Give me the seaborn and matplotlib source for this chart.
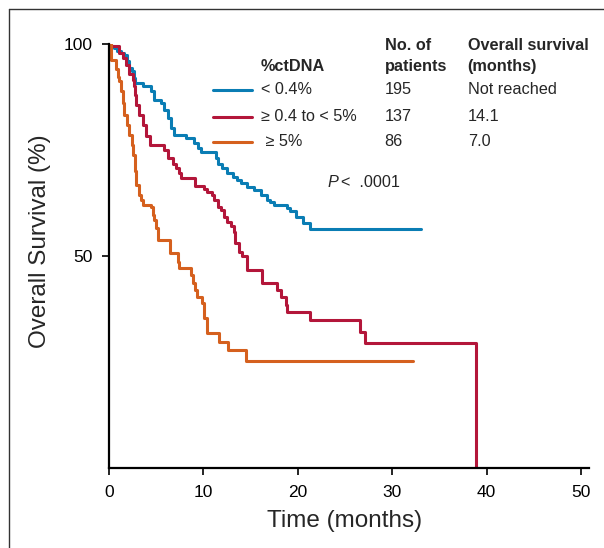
import matplotlib
matplotlib.use("Agg")
import matplotlib.pyplot as plt
from matplotlib.lines import Line2D
import seaborn as sns
import pandas as pd
from matplotlib import font_manager

# Kaplan-Meier step coordinates: time (months) and survival (%) after each step
low_time = [0, 0.2, 0.5, 0.9, 1.27, 1.6, 1.9, 2.15, 2.4, 2.67, 2.78, 3.56, 4.44, 4.79,
            5.5, 5.85, 6.2, 6.55, 6.9, 8.14, 9.02, 9.38, 9.73, 11.3, 11.6, 12.0, 12.5,
            13.1, 13.6, 13.95, 14.66, 15.36, 16.07, 16.78, 17.05, 17.47, 18.9, 19.2,
            19.8, 20.6, 21.3, 33.1]
low_surv = [100, 99.5, 99.0, 98.3, 97.9, 97.5, 95.9, 94.3, 93.6, 92.0, 90.8, 90.0, 88.8,
            86.9, 86.1, 84.5, 82.5, 80.2, 78.6, 77.8, 76.7, 75.5, 74.6, 73.0, 71.8, 70.7,
            69.5, 68.7, 67.9, 67.1, 66.3, 65.6, 64.4, 63.2, 62.8, 62.0, 61.3, 60.5, 59.1,
            57.9, 56.3, 56.3]

mid_time = [0, 0.2, 1.06, 1.45, 1.8, 2.15, 2.5, 2.67, 2.75, 2.85, 3.2, 3.56, 3.9, 4.37,
            5.85, 6.2, 6.73, 7.08, 7.43, 7.6, 9.1, 10.1, 10.4, 10.96, 11.1, 11.5, 11.84,
            12.2, 12.55, 12.9, 13.24, 13.4, 13.8, 14.13, 14.66, 16.25, 17.83, 18.2, 18.7,
            18.9, 21.3, 26.6, 27.1, 38.9]
mid_surv = [100, 99.5, 97.9, 96.7, 95.0, 93.0, 91.6, 90.0, 88.0, 85.7, 83.3, 81.0, 78.2,
            76.2, 75.0, 73.0, 71.8, 70.7, 69.5, 68.3, 66.4, 65.8, 65.2, 64.4, 63.2, 61.6,
            60.8, 59.3, 58.1, 57.0, 55.7, 53.0, 51.0, 49.9, 46.7, 43.6, 42.0, 40.4, 38.4,
            36.9, 34.9, 32.1, 29.4, 0.0]

high_time = [0, 0.2, 0.74, 0.92, 1.09, 1.27, 1.45, 1.62, 1.9, 2.15, 2.4, 2.57, 2.75, 2.85,
             3.17, 3.38, 3.56, 4.44, 4.62, 4.79, 4.97, 5.15, 6.48, 7.26, 7.43, 8.67, 8.85,
             9.09, 9.3, 9.9, 10.07, 10.36, 10.43, 11.66, 12.6, 14.56, 32.2]
high_surv = [100, 96.3, 94.0, 92.2, 91.2, 88.8, 86.0, 83.3, 81.0, 78.6, 76.2, 73.9, 70.0,
             66.7, 64.5, 63.2, 62.0, 61.6, 59.7, 58.5, 56.5, 53.8, 50.6, 48.7, 47.1, 45.5,
             43.6, 42.0, 40.4, 38.8, 35.3, 33.7, 31.9, 29.8, 27.8, 25.3, 25.3]

groups = ["< 0.4%", "\u2265 0.4 to < 5%", " \u2265 5%"]
n_patients = ["195", "137", "86"]
median_os = ["Not reached", "14.1", "7.0"]
colors = ["#0a7db4", "#b3163a", "#d5601e"]
x_ticks = [0, 10, 20, 30, 40, 50]
y_ticks = [50, 100]

available = {f.name for f in font_manager.fontManager.ttflist}
narrow = "Liberation Sans Narrow" if "Liberation Sans Narrow" in available else "Liberation Sans"
label_size = 21 if narrow == "Liberation Sans Narrow" else 17.5
xtick_size = 14 if narrow == "Liberation Sans Narrow" else 12.5

sns.set_style("white")
plt.rcParams["font.family"] = ["Liberation Sans", "DejaVu Sans"]

frames = []
for name, t, s in zip(groups, [low_time, mid_time, high_time], [low_surv, mid_surv, high_surv]):
    frames.append(pd.DataFrame({"time": t, "surv": s, "group": name}))
df = pd.concat(frames, ignore_index=True)

fig = plt.figure(figsize=(6.04, 5.48), dpi=100)
ax = fig.add_axes([109 / 604, 80 / 548, 480 / 604, 424 / 548])

sns.lineplot(data=df, x="time", y="surv", hue="group", hue_order=groups,
             palette=colors, estimator=None, sort=False, drawstyle="steps-post",
             linewidth=2.2, legend=False, ax=ax)

ax.set_xlim(0, 50.85)
ax.set_ylim(0, 100)
ax.set_xticks(x_ticks)
ax.set_yticks(y_ticks)
ax.set_xticklabels([str(v) for v in x_ticks], fontfamily=narrow, fontsize=xtick_size)
ax.set_yticklabels([str(v) for v in y_ticks], fontsize=12.5)
ax.tick_params(axis="x", direction="out", length=5, width=1.2, pad=7, colors="black")
ax.tick_params(axis="y", direction="out", length=5, width=1.2, pad=7, colors="black")
ax.tick_params(bottom=True, left=True)
for side in ["top", "right"]:
    ax.spines[side].set_visible(False)
for side in ["left", "bottom"]:
    ax.spines[side].set_linewidth(1.6)
    ax.spines[side].set_color("black")

ax.set_xlabel("Time (months)", fontfamily=narrow, fontsize=label_size)
ax.set_ylabel("Overall Survival (%)", fontfamily=narrow, fontsize=label_size)
ax.xaxis.set_label_coords(0.49, -0.1)
ax.yaxis.set_label_coords(-0.12, 0.535)

# Legend table
fs = 11.7
ax.text(16.1, 94.8, "%ctDNA", fontsize=fs, fontweight="bold", va="center")
ax.text(29.2, 99.6, "No. of", fontsize=fs, fontweight="bold", va="center")
ax.text(29.2, 94.8, "patients", fontsize=fs, fontweight="bold", va="center")
ax.text(38.0, 99.6, "Overall survival", fontsize=fs, fontweight="bold", va="center")
ax.text(38.0, 94.8, "(months)", fontsize=fs, fontweight="bold", va="center")
rows_y = [89.2, 82.9, 77.0]
for name, col, n, med, yy in zip(groups, colors, n_patients, median_os, rows_y):
    ax.add_line(Line2D([10.99, 15.18], [yy, yy], color=col, linewidth=2.2))
    ax.text(16.1, yy, name, fontsize=fs, va="center")
    ax.text(29.2, yy, n, fontsize=fs, va="center")
    ax.text(38.0, yy, med, fontsize=fs, va="center")
ax.text(23.2, 67.3, "P", fontsize=fs, fontstyle="italic", va="center")
ax.text(24.6, 67.3, "<  .0001", fontsize=fs, va="center")

# Outer frame
fig.add_artist(Line2D([9 / 604, 9 / 604], [0, 1 - 9 / 548], color="#333333", linewidth=1.0))
fig.add_artist(Line2D([9 / 604, 1], [1 - 9 / 548, 1 - 9 / 548], color="#333333", linewidth=1.0))

fig.savefig("out.png", dpi=100)
